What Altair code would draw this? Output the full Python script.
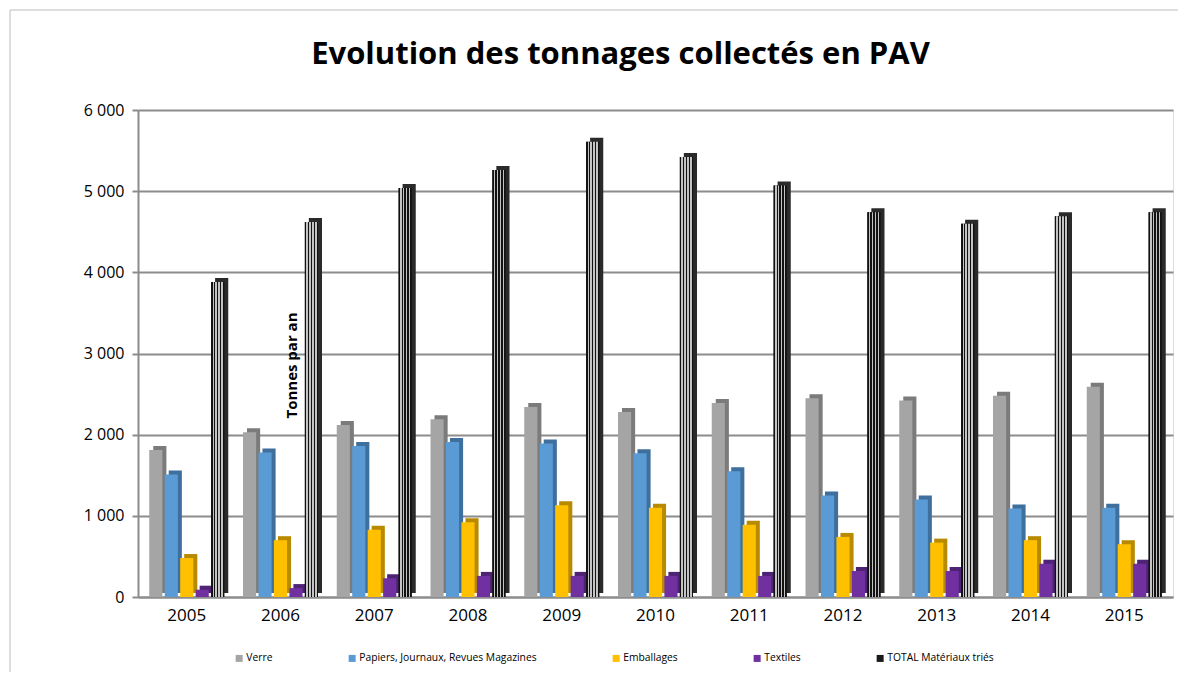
import altair as alt
import pandas as pd

years = ["2005", "2006", "2007", "2008", "2009", "2010", "2011", "2012", "2013", "2014", "2015"]
series = ["Verre", "Papiers, Journaux, Revues Magazines", "Emballages", "Textiles", "TOTAL Matériaux triés"]
verre = [1810, 2030, 2120, 2190, 2340, 2280, 2390, 2450, 2420, 2480, 2590]
papiers = [1510, 1780, 1860, 1910, 1890, 1770, 1550, 1250, 1200, 1090, 1100]
emballages = [480, 700, 830, 920, 1130, 1100, 890, 740, 670, 700, 650]
textiles = [90, 110, 230, 260, 260, 260, 260, 320, 320, 410, 410]
total = [3880, 4620, 5040, 5260, 5610, 5420, 5070, 4740, 4600, 4690, 4740]
y_ticks = [0, 1000, 2000, 3000, 4000, 5000, 6000]

colors = ["#A5A5A5", "#5B9BD5", "#FFC000", "#7030A0", "#1A1A1A"]
sides = ["#7B7B7B", "#3F6F9C", "#B88A00", "#4E2275", "#2A2A2A"]

values = [verre, papiers, emballages, textiles, total]
rows = []
for s, vals, side in zip(series, values, sides):
    for yr, v in zip(years, vals):
        rows.append({"year": yr, "series": s, "value": v, "side": side})
df = pd.DataFrame(rows)

FONT = "Open Sans"
W, H = 1035, 487
PI, PO = 0.2, 0.12
n_years = len(years)
step = W / (n_years - PI + 2 * PO)
bandw = step * (1 - PI)
DEPTH = 4

x_enc = alt.X("year:N", sort=years,
              scale=alt.Scale(paddingInner=PI, paddingOuter=PO),
              axis=alt.Axis(title=None, labelAngle=0, labelFontSize=17, labelFont=FONT,
                            labelColor="#000", ticks=False, domainColor="#8C8C8C",
                            domainWidth=2, labelPadding=10))
xo_enc = alt.XOffset("series:N", sort=series,
                     scale=alt.Scale(domain=series, paddingInner=0.15, range=[0, bandw]))
xo_shadow = alt.XOffset("series:N", sort=series,
                        scale=alt.Scale(domain=series, paddingInner=0.15,
                                        range=[DEPTH, bandw + DEPTH]))
y_enc = alt.Y("value:Q", scale=alt.Scale(domain=[0, 6000], nice=False),
              axis=alt.Axis(values=y_ticks,
                            labelExpr="replace(format(datum.value, ',d'), ',', ' ')",
                            labelFontSize=16, labelFont=FONT, labelColor="#000",
                            grid=True, gridColor="#8C8C8C", gridWidth=2,
                            domainColor="#8C8C8C", domainWidth=2, tickColor="#8C8C8C",
                            tickSize=6, tickWidth=2, labelPadding=8,
                            title="Tonnes par an", titleFont=FONT, titleFontSize=15,
                            titleFontWeight="bold", titleColor="#000", titleAngle=270,
                            titleX=153, titleY=255, titleAlign="center",
                            titleBaseline="middle"))

base = alt.Chart(df)

shadow = base.mark_bar(yOffset=-DEPTH).encode(
    x=x_enc, xOffset=xo_shadow, y=y_enc,
    fill=alt.Fill("side:N", scale=None, legend=None),
)

front = base.mark_bar().encode(
    x=x_enc, xOffset=xo_enc, y=y_enc,
    color=alt.Color("series:N", sort=series,
                    scale=alt.Scale(domain=series, range=colors),
                    legend=alt.Legend(title=None, orient="none", direction="horizontal",
                                      legendX=96, legendY=543, columnPadding=74,
                                      symbolType="square", symbolSize=49,
                                      symbolStrokeWidth=0, labelFontSize=10.3,
                                      labelFont=FONT, labelColor="#000",
                                      labelOffset=2, labelLimit=400)),
)

stops = []
n = 9
for i in range(n):
    c = "#121212" if i % 2 == 0 else "#C4C4C4"
    stops.append(alt.GradientStop(color=c, offset=i / n))
    stops.append(alt.GradientStop(color=c, offset=(i + 1) / n))
grad = alt.Gradient(gradient="linear", stops=stops, x1=0, x2=1, y1=0, y2=0)

texture = base.transform_filter(
    alt.datum.series == "TOTAL Matériaux triés"
).mark_bar(fill=grad).encode(x=x_enc, xOffset=xo_enc, y=y_enc)

frame = alt.Chart(pd.DataFrame({"a": [0]})).mark_rect(
    fill=None, stroke="#BDBDBD", strokeWidth=1
).encode(x=alt.value(-128), x2=alt.value(1050), y=alt.value(-100), y2=alt.value(600))

chart = alt.layer(frame, shadow, front, texture).resolve_scale(
    color="independent", fill="independent", xOffset="independent"
).properties(
    width=W, height=H,
    autosize=alt.AutoSizeParams(type="none"),
    padding={"left": 130, "top": 102, "right": 5, "bottom": 75},
    title=alt.TitleParams("Evolution des tonnages collectés en PAV", font=FONT,
                          fontSize=31, fontWeight="bold", color="#000",
                          anchor="middle", dx=-35, offset=-61),
).configure_view(stroke=None).configure(background="white")

chart.save("out.html", embed_options={"renderer": "svg", "actions": False})
